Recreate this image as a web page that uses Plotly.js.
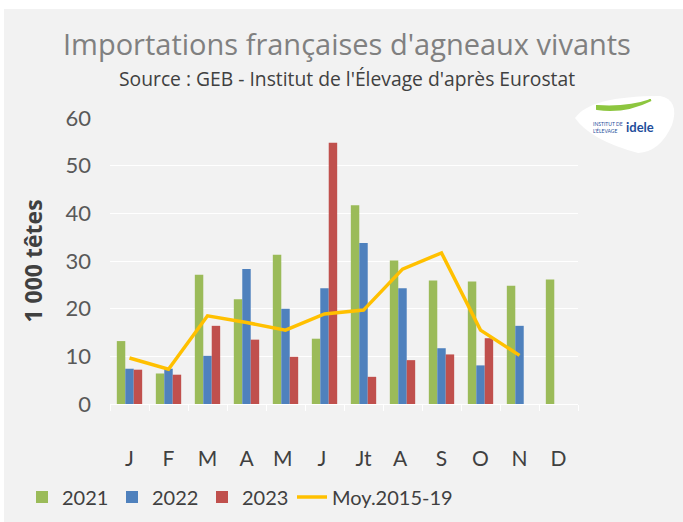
<!DOCTYPE html>
<html>
<head>
<meta charset="utf-8">
<script src="https://cdn.plot.ly/plotly-3.0.1.min.js"></script>
<style>
html,body{margin:0;padding:0;background:#ffffff;}
#chart{width:683px;height:522px;}
</style>
</head>
<body>
<div id="chart"></div>
<script>
const months = ["J","F","M","A","M ","J ","Jt","A ","S","O","N","D"];
const v2021 = [13.2, 6.4, 27.1, 22.0, 31.3, 13.7, 41.7, 30.1, 25.9, 25.7, 24.8, 26.1];
const v2022 = [7.4, 7.4, 10.1, 28.3, 20.0, 24.3, 33.8, 24.3, 11.7, 8.1, 16.4, null];
const v2023 = [7.2, 6.15, 16.4, 13.5, 9.9, 54.8, 5.7, 9.2, 10.4, 13.8, null, null];
const moy = [9.65, 7.3, 18.5, 17.1, 15.5, 18.9, 19.7, 28.3, 31.7, 15.5, 10.2, null];

const FONT = "Lato, 'Open Sans', sans-serif";
const FONT2 = "'Open Sans', Lato, sans-serif";

const traces = [
  {type:"bar", name:"2021", x:months, y:v2021, marker:{color:"#9BBB59"}},
  {type:"bar", name:"2022", x:months, y:v2022, marker:{color:"#4F81BD"}},
  {type:"bar", name:"2023", x:months, y:v2023, marker:{color:"#C0504D"}},
  {type:"scatter", mode:"lines", name:"Moy.2015-19", x:months, y:moy, legend:"legend2",
   line:{color:"#FFC000", width:3.5}, connectgaps:false}
];

const px = v => (v-110)/468;
const py = v => (404-v)/286;

const legendFont = {family:FONT, size:20, color:"#404040"};

const layout = {
  width:683, height:522,
  margin:{l:110, r:105, t:118, b:118, autoexpand:false},
  paper_bgcolor:"#ffffff",
  plot_bgcolor:"rgba(0,0,0,0)",
  font:{family:FONT, color:"#595959"},
  barmode:"group", bargap:0.35, bargroupgap:0,
  showlegend:true,
  title:{text:"Importations françaises d'agneaux vivants",
         font:{family:FONT2, size:29, color:"#808080"},
         x:0.508, xanchor:"center", y:0.915, yanchor:"middle", yref:"container"},
  xaxis:{type:"category", showgrid:false, showline:true, linecolor:"#ffffff", linewidth:1,
         ticks:"outside", tickson:"boundaries", ticklen:6, tickcolor:"#ffffff",
         tickfont:{family:FONT, size:21, color:"#404040"}, ticklabelstandoff:36,
         fixedrange:true, automargin:false},
  yaxis:{range:[0,60], dtick:10, showgrid:true, gridcolor:"#ffffff", gridwidth:1,
         zeroline:false, showline:false, ticks:"", automargin:false,
         tickfont:{family:FONT, size:22, color:"#595959"}, ticklabelstandoff:18,
         title:{text:"1 000 têtes", font:{family:FONT2, size:23, color:"#404040", weight:"bold"}, standoff:16}},
  legend:{orientation:"h", x:px(22), xanchor:"left", y:py(497), yanchor:"middle",
          font:legendFont, bgcolor:"rgba(0,0,0,0)",
          traceorder:"normal", entrywidth:45, itemwidth:30},
  legend2:{orientation:"h", x:px(292), xanchor:"left", y:py(497), yanchor:"middle",
          font:legendFont, bgcolor:"rgba(0,0,0,0)", itemwidth:30},
  shapes:[
    {type:"rect", xref:"paper", yref:"paper", layer:"below",
     x0:px(4), x1:px(690), y0:py(530), y1:py(9),
     fillcolor:"#f2f2f2", line:{width:0}},
    {type:"path", xref:"paper", yref:"paper", layer:"above",
     path:"M "+px(575)+","+py(118)+" Q "+px(590)+","+py(96)+" "+px(660)+","+py(96)+" Q "+px(680)+","+py(100)+" "+px(672)+","+py(125)+" Q "+px(660)+","+py(152)+" "+px(638)+","+py(153)+" Q "+px(590)+","+py(140)+" "+px(575)+","+py(118)+" Z",
     fillcolor:"#ffffff", line:{width:0}},
    {type:"path", xref:"paper", yref:"paper", layer:"above",
     path:"M "+px(597)+","+py(109)+" Q "+px(625)+","+py(113)+" "+px(651)+","+py(100)+" Q "+px(628)+","+py(108)+" "+px(597)+","+py(106)+" Z",
     fillcolor:"#8DC63F", line:{color:"#8DC63F", width:2}}
  ],
  annotations:[
    {text:"Source : GEB - Institut de l'Élevage d'après Eurostat", xref:"paper", yref:"paper",
     x:px(347), y:py(78), xanchor:"center", yanchor:"middle", showarrow:false,
     font:{family:FONT2, size:19.3, color:"#404040"}},
    {text:"<b>idele</b>", xref:"paper", yref:"paper", x:px(656), y:py(127),
     xanchor:"right", yanchor:"middle", showarrow:false, font:{family:FONT, size:13, color:"#1F4E9B"}},
    {text:"INSTITUT DE<br>L'ÉLEVAGE", xref:"paper", yref:"paper", x:px(625), y:py(127),
     xanchor:"right", yanchor:"middle", showarrow:false, align:"left", font:{family:FONT, size:5, color:"#1F4E9B"}}
  ]
};

Plotly.newPlot("chart", traces, layout, {displayModeBar:false, staticPlot:true});
</script>
</body>
</html>
